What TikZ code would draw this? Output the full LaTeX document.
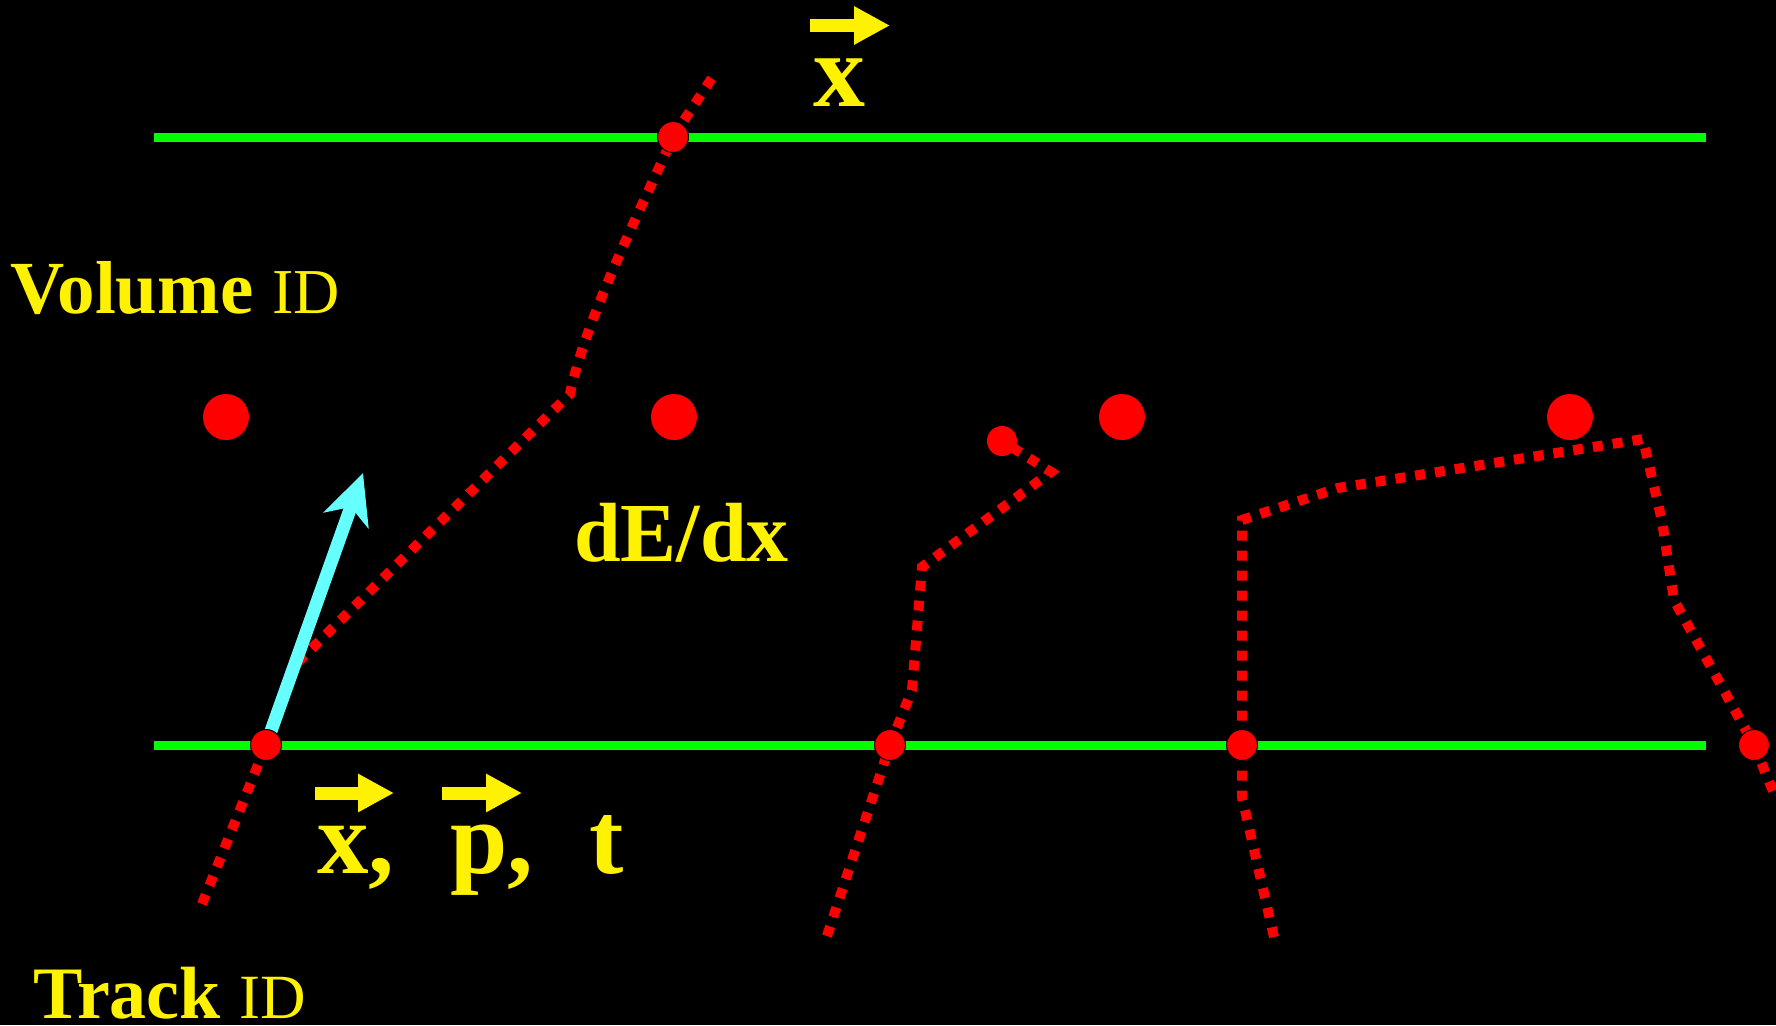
\documentclass[tikz,border=0pt]{standalone}
\usepackage{fontspec}
\setmainfont{Liberation Serif}
\usetikzlibrary{arrows.meta}
\definecolor{stepcyan}{RGB}{102,255,255}

\begin{document}
\begin{tikzpicture}[x=1pt,y=-1pt,
  hit/.style={circle,fill=red,draw=black,line width=1pt,inner sep=0pt,minimum size=31pt},
  voldot/.style={circle,fill=red,inner sep=0pt,minimum size=46pt},
  track/.style={red,line width=10pt,dash pattern=on 10pt off 10pt},
  plane/.style={green,line width=9pt},
  vecarrow/.style={yellow,line width=13pt,-{Triangle[length=36pt,width=36pt]}},
  lbl/.style={text=yellow,inner sep=0pt,anchor=base west}]
\fill[black] (0,0) rectangle (1776,1025);
\useasboundingbox (0,0) rectangle (1776,1025);

% detector planes
\coordinate (topL) at (154,137);
\coordinate (topR) at (1706,137);
\coordinate (botL) at (154,745);
\coordinate (botR) at (1706,745);
\draw[plane] (topL) -- (topR);
\draw[plane] (botL) -- (botR);

% track end points and kinks
\coordinate (t1start) at (202,904);
\coordinate (t1bend) at (296,664);
\coordinate (t1kink) at (570,394);
\coordinate (t1end) at (712,78);
\coordinate (t2start) at (827,936);
\coordinate (t2a) at (912,690);
\coordinate (t2kink) at (922,567);
\coordinate (t2turn) at (1051,472);
\coordinate (t3start) at (1274,937);
\coordinate (t3a) at (1242,797);
\coordinate (t3corner) at (1242,520);
\coordinate (t3b) at (1338,488);
\coordinate (t3peak) at (1643,439);
\coordinate (t3c) at (1662,521);
\coordinate (t3d) at (1674,600);
\coordinate (t3end) at (1773,791);

\coordinate (hitTopPos) at (673,137);
\coordinate (hitAPos) at (266,745);
\coordinate (hitBPos) at (890,745);
\coordinate (hitCPos) at (1242,745);
\coordinate (hitDPos) at (1754,745);
\coordinate (stopPos) at (1002,441);

% tracks
\draw[track] (t1start) -- (hitAPos) -- (t1bend) -- (t1kink)
  .. controls (585,320) and (645,200) .. (hitTopPos) -- (t1end);
\draw[track] (t2start) -- (hitBPos) -- (t2a) -- (t2kink) -- (t2turn) -- (stopPos);
\draw[track] (t3start) -- (t3a) -- (hitCPos) -- (t3corner) -- (t3b) -- (t3peak)
  -- (t3c) -- (t3d) -- (hitDPos) -- (t3end);

% momentum direction
\coordinate (momtip) at (363,473);
\draw[stepcyan,line width=13pt,-{Stealth[length=50pt,width=47pt,inset=14pt]}] (hitAPos) -- (momtip);

% volume points
\foreach \vx [count=\i] in {226,674,1122,1570}
  \node[voldot] (vol\i) at (\vx,417) {};

% hits
\node[hit] (hitTop) at (hitTopPos) {};
\node[hit] (hitA) at (hitAPos) {};
\node[hit] (hitB) at (hitBPos) {};
\node[hit] (hitC) at (hitCPos) {};
\node[hit] (hitD) at (hitDPos) {};
\node[hit,draw=none,minimum size=30pt] (stop) at (stopPos) {};

% labels
\node[lbl,font=\fontsize{75}{75}\selectfont] (volid) at (10,313)
  {\bfseries Volume {\fontsize{64}{64}\selectfont\mdseries ID}};
\node[lbl,font=\fontsize{74}{74}\selectfont] (trackid) at (33,1018)
  {\bfseries Track {\fontsize{63}{63}\selectfont\mdseries ID}};
\node[lbl,font=\fontsize{84}{84}\selectfont\bfseries] (dedx) at (574,561) {dE/dx};

\node[lbl,font=\fontsize{104}{104}\selectfont\bfseries] (xtop) at (813,106) {x};
\draw[vecarrow] (810,25.5) -- (890,25.5);

\node[lbl,font=\fontsize{103}{103}\selectfont\bfseries] (xbot) at (317,873) {x,};
\node[lbl,font=\fontsize{103}{103}\selectfont\bfseries] (pbot) at (450,873) {p,};
\node[lbl,font=\fontsize{103}{103}\selectfont\bfseries] (tbot) at (589,873) {t};
\draw[vecarrow] (315,793) -- (394,793);
\draw[vecarrow] (442,793) -- (522,793);
\end{tikzpicture}
\end{document}
